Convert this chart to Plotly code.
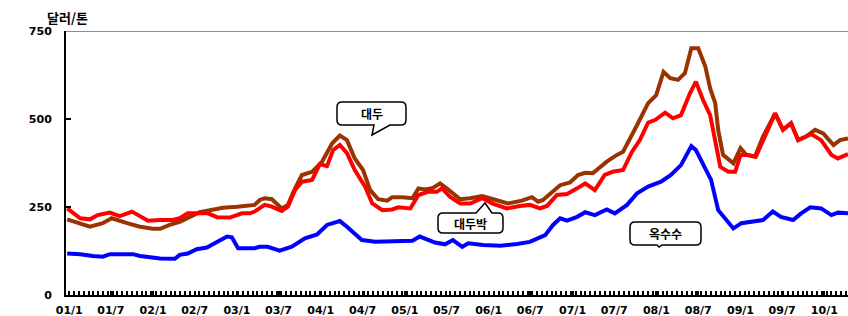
import plotly.graph_objects as go

# ---------------- data ----------------
soy_dates = ["2000-12-23","2001-02-18","2001-04-01","2001-05-27","2001-07-05","2001-09-10","2001-11-05",
             "2002-01-01","2002-02-01","2002-03-14","2002-04-27","2002-06-10","2002-07-23","2002-09-06","2002-11-01",
             "2003-01-02","2003-02-27","2003-03-19","2003-04-10","2003-05-02","2003-06-02","2003-07-15","2003-08-11",
             "2003-09-11","2003-10-11","2003-11-24","2004-01-07","2004-02-20","2004-03-24","2004-04-24","2004-05-28",
             "2004-07-03","2004-08-03","2004-09-07","2004-10-16","2004-11-07","2004-12-20","2005-02-03","2005-03-01",
             "2005-03-29","2005-04-29","2005-06-03","2005-07-08","2005-08-30","2005-10-12","2005-12-04","2006-01-21",
             "2006-03-25","2006-05-25","2006-07-08","2006-08-04","2006-08-25","2006-11-08","2006-12-21","2007-01-25",
             "2007-02-25","2007-03-30","2007-05-30","2007-07-13","2007-08-09","2007-10-09","2007-11-26","2007-12-31",
             "2008-02-01","2008-03-01","2008-04-04","2008-05-04","2008-06-01","2008-07-01","2008-08-01","2008-08-22",
             "2008-09-13","2008-09-26","2008-10-17","2008-12-01","2009-01-01","2009-01-26","2009-03-05","2009-04-09",
             "2009-06-01","2009-07-05","2009-08-09","2009-09-09","2009-10-13","2009-11-22","2009-12-27","2010-02-10",
             "2010-03-10","2010-04-14"]
soy_vals = [215,202,194,204,218,204,194,
            188,188,199,208,222,235,241,248,
            251,253,256,270,275,272,246,256,
            303,341,350,379,431,453,440,388,
            355,298,272,268,278,278,275,303,
            300,303,317,300,272,275,281,272,
            260,268,278,265,270,312,320,341,
            347,346,379,398,407,483,545,568,
            634,616,611,630,701,701,649,587,
            545,469,398,374,417,398,393,450,
            516,469,488,440,450,469,459,426,
            440,445]

meal_dates = ["2000-12-23","2001-02-18","2001-04-01","2001-05-05","2001-06-27","2001-08-09","2001-10-01",
              "2001-11-05","2001-12-10","2002-02-01","2002-03-27","2002-04-27","2002-06-01","2002-07-23","2002-08-28",
              "2002-10-06","2002-12-01","2003-01-23","2003-02-27","2003-03-19","2003-04-10","2003-05-02","2003-06-02",
              "2003-07-15","2003-08-11","2003-09-11","2003-10-11","2003-11-24","2003-12-28","2004-01-28","2004-02-24",
              "2004-03-24","2004-04-24","2004-05-28","2004-07-12","2004-08-12","2004-09-25","2004-11-07","2004-12-03",
              "2005-01-25","2005-03-01","2005-04-12","2005-05-20","2005-06-12","2005-07-16","2005-08-30","2005-10-12",
              "2005-12-04","2006-01-21","2006-03-21","2006-05-16","2006-06-29","2006-08-12","2006-09-12","2006-10-25",
              "2006-12-08","2007-01-21","2007-02-25","2007-04-08","2007-05-21","2007-06-25","2007-08-09","2007-09-17",
              "2007-10-21","2007-11-26","2007-12-26","2008-02-08","2008-03-13","2008-04-17","2008-05-26","2008-06-21",
              "2008-07-22","2008-08-22","2008-09-13","2008-10-05","2008-11-09","2008-12-09","2009-01-01","2009-02-05",
              "2009-03-09","2009-04-09","2009-06-01","2009-07-05","2009-08-09","2009-09-09","2009-11-05","2009-12-18",
              "2010-02-01","2010-03-01","2010-04-14"]
meal_vals = [246,218,215,227,234,224,237,
             224,211,213,213,218,232,232,232,
             221,220,232,232,237,246,256,251,
             239,251,298,322,327,372,366,412,
             426,403,355,308,260,241,243,249,
             246,284,293,293,303,279,260,260,
             275,259,246,253,256,246,253,284,
             287,303,317,298,341,350,355,407,
             440,490,497,518,502,511,573,606,
             554,511,440,364,350,350,398,398,
             393,440,516,469,488,440,457,440,
             398,388,400]

corn_dates = ["2000-12-23","2001-02-18","2001-04-14","2001-05-27","2001-06-27","2001-10-05","2001-11-05",
              "2002-02-01","2002-04-06","2002-04-27","2002-06-01","2002-07-10","2002-08-23","2002-10-06","2002-11-19",
              "2002-12-10","2003-01-06","2003-02-14","2003-03-19","2003-04-10","2003-05-15","2003-07-06","2003-08-28",
              "2003-10-24","2003-12-16","2004-01-28","2004-03-24","2004-04-24","2004-06-28","2004-08-25","2004-11-20",
              "2005-02-03","2005-03-07","2005-05-12","2005-06-25","2005-07-29","2005-09-08","2005-10-04","2005-12-08",
              "2006-02-21","2006-05-04","2006-06-29","2006-09-04","2006-10-08","2006-11-08","2006-12-08","2007-01-21",
              "2007-02-25","2007-04-08","2007-05-30","2007-07-04","2007-08-26","2007-10-09","2007-11-26","2008-01-21",
              "2008-03-04","2008-04-17","2008-05-08","2008-06-01","2008-06-21","2008-07-22","2008-08-26","2008-09-26",
              "2008-10-31","2008-12-01","2009-01-05","2009-03-05","2009-04-09","2009-05-22","2009-06-26","2009-08-18",
              "2009-09-22","2009-11-01","2009-12-18","2010-02-01","2010-03-01","2010-04-14"]
corn_vals = [118,116,111,109,116,116,111,
             104,103,114,118,130,135,151,166,
             164,133,133,133,137,137,126,137,
             161,172,199,210,194,156,151,154,
             154,166,149,144,156,137,147,142,
             140,145,151,170,199,218,211,222,
             235,227,243,232,256,289,308,322,
             341,369,393,423,412,369,327,241,
             213,189,204,208,213,237,222,213,
             232,249,246,227,234,232]

series_names = ["대두", "대두박", "옥수수"]
series_colors = ["#993300", "#FF0000", "#0000FF"]

y_ticks = [0, 250, 500, 750]
x_tick_vals = ["2001-01-01","2001-07-01","2002-01-01","2002-07-01","2003-01-01","2003-07-01",
               "2004-01-01","2004-07-01","2005-01-01","2005-07-01","2006-01-01","2006-07-01",
               "2007-01-01","2007-07-01","2008-01-01","2008-07-01","2009-01-01","2009-07-01","2010-01-01"]
x_tick_text = ["01/1","01/7","02/1","02/7","03/1","03/7","04/1","04/7","05/1","05/7",
               "06/1","06/7","07/1","07/7","08/1","08/7","09/1","09/7","10/1"]

# ---------------- figure ----------------
W, H = 848, 316
ML, MR, MT, MB = 66, 0, 31, 21
PW, PH = W - ML - MR, H - MT - MB

fig = go.Figure()
for d, v, n, c in [(soy_dates, soy_vals, series_names[0], series_colors[0]),
                   (meal_dates, meal_vals, series_names[1], series_colors[1]),
                   (corn_dates, corn_vals, series_names[2], series_colors[2])]:
    fig.add_trace(go.Scatter(x=d, y=v, name=n, mode="lines",
                             line=dict(color=c, width=4), hoverinfo="skip"))

num_font = dict(family="DejaVu Sans", size=11, color="black", weight="bold")
kr_font = dict(family="Noto Sans CJK KR", size=12, color="black", weight="bold")

fig.update_layout(
    width=W, height=H, autosize=False, margin=dict(l=ML, r=MR, t=MT, b=MB, pad=0),
    plot_bgcolor="white", paper_bgcolor="white", showlegend=False,
    xaxis=dict(type="date", range=["2000-12-18", "2010-04-14"],
               tickvals=x_tick_vals, ticktext=x_tick_text, automargin=False,
               ticks="inside", ticklen=4, tickwidth=1.5, tickcolor="black",
               showline=True, linecolor="black", linewidth=2,
               showgrid=False, zeroline=False, tickfont=num_font,
               ticklabelstandoff=4,
               minor=dict(ticks="inside", ticklen=4, tickwidth=1.5, tickcolor="black",
                          dtick=21 * 86400000, tick0="2001-01-01", showgrid=False)),
    yaxis=dict(range=[0, 750], tickvals=y_ticks, automargin=False,
               ticks="inside", ticklen=5, tickwidth=2, tickcolor="black",
               showline=True, linecolor="black", linewidth=2,
               showgrid=False, zeroline=False, tickfont=num_font,
               ticklabelstandoff=10),
)

# top border of plot area (grey)
fig.add_shape(type="line", xref="paper", yref="y", x0=0, x1=1, y0=750, y1=750,
              line=dict(color="#8c8c8c", width=2), layer="below")


def P(x, y):
    return f"{(x - ML) / PW:.5f},{(MT + PH - y) / PH:.5f}"


def bubble(x0, y0, x1, y1, r, side, b0, b1, tip):
    pts = [f"M{P(x0 + r, y0)}"]
    if side == "top":
        pts += [f"L{P(b0, y0)}", f"L{P(*tip)}", f"L{P(b1, y0)}"]
    pts += [f"L{P(x1 - r, y0)}", f"Q{P(x1, y0)} {P(x1, y0 + r)}",
            f"L{P(x1, y1 - r)}", f"Q{P(x1, y1)} {P(x1 - r, y1)}"]
    if side == "bottom":
        pts += [f"L{P(b1, y1)}", f"L{P(*tip)}", f"L{P(b0, y1)}"]
    pts += [f"L{P(x0 + r, y1)}", f"Q{P(x0, y1)} {P(x0, y1 - r)}",
            f"L{P(x0, y0 + r)}", f"Q{P(x0, y0)} {P(x0 + r, y0)}", "Z"]
    return " ".join(pts)


callouts = [
    (series_names[0], (337, 102, 406, 125), "bottom", 374, 390, (372, 135)),
    (series_names[1], (438, 213, 503, 233), "top", 476, 492, (485, 203)),
    (series_names[2], (630, 222, 701, 245), "bottom", 657, 662, (659, 247)),
]
for text, (x0, y0, x1, y1), side, b0, b1, tip in callouts:
    fig.add_shape(type="path", xref="paper", yref="paper",
                  path=bubble(x0, y0, x1, y1, 5, side, b0, b1, tip),
                  fillcolor="white", line=dict(color="black", width=1.5))
    fig.add_annotation(xref="paper", yref="paper",
                       x=((x0 + x1) / 2 - ML) / PW, y=(MT + PH - (y0 + y1) / 2) / PH,
                       text=text, showarrow=False, font=kr_font,
                       xanchor="center", yanchor="middle")

fig.add_annotation(xref="paper", yref="paper", x=(67 - ML) / PW, y=(MT + PH - 17) / PH,
                   text="달러/톤", showarrow=False,
                   font=dict(family="Noto Sans CJK KR", size=13, color="black", weight="bold"),
                   xanchor="center", yanchor="middle")

fig.write_html("out.html", config={"responsive": False, "displayModeBar": False},
               post_script="document.body.style.margin='0';document.body.style.overflow='hidden';")
